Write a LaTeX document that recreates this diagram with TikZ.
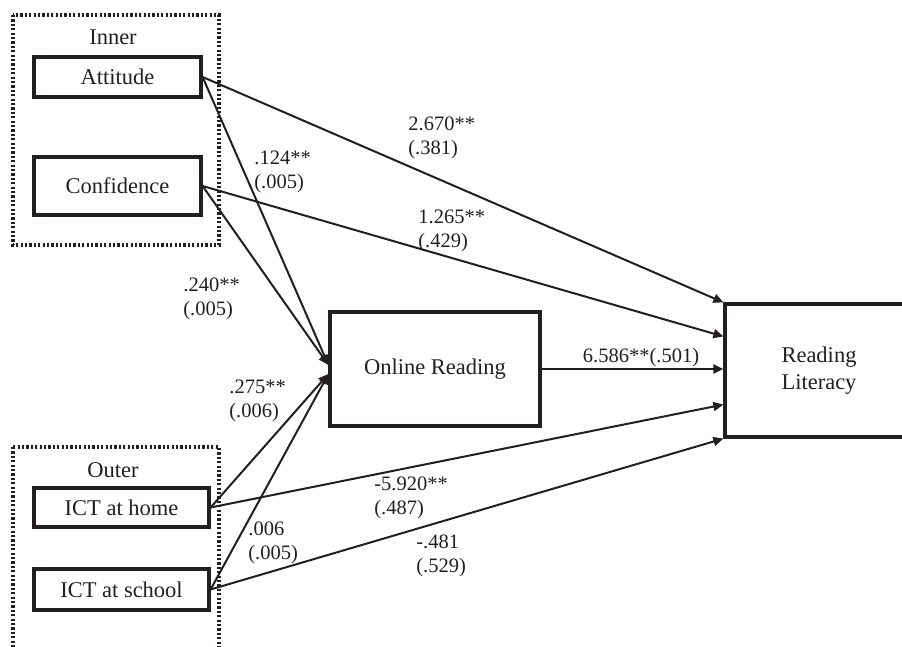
\documentclass[tikz,border=0pt]{standalone}
\usepackage{fontspec}
\setmainfont{Liberation Serif}
\usetikzlibrary{arrows.meta,positioning,calc}
\definecolor{ink}{HTML}{231F20}
\tikzset{box/.style={draw=ink,line width=1.6pt,text=ink,font=\fontsize{11.25}{13.5}\selectfont,align=center,inner sep=0pt},
grp/.style={draw=ink,line width=1.6pt,dash pattern=on 1.1pt off 1.1pt},
title/.style={text=ink,font=\fontsize{11.25}{13.5}\selectfont,inner sep=0pt},
arr/.style={-{Triangle[length=5pt,width=4.5pt]},line width=1pt,draw=ink},
coef/.style={anchor=west,align=left,text=ink,font=\fontsize{10.25}{12}\selectfont,inner sep=0pt}}

\begin{document}
\begin{tikzpicture}[x=0.5pt,y=-0.5pt]
\clip (0,0) rectangle (902,647);
% groups
\draw[grp] (13,15) rectangle (219,245);
\draw[grp] (13,447) rectangle (219,680);
\node[title] (inner) at (113,37) {Inner};
\node[title] (outer) at (113,470) {Outer};
% variables
\node[box,minimum width=83.5pt,minimum height=20pt] (att) at (117.5,77) {Attitude};
\node[box,minimum width=83.5pt,minimum height=29pt] (conf) at (117.5,186) {Confidence};
\node[box,minimum width=87.5pt,minimum height=19.5pt] (home) at (121.5,507.5) {ICT at home};
\node[box,minimum width=87.5pt,minimum height=20.5pt] (school) at (121.5,589.5) {ICT at school};
\node[box,minimum width=105pt,minimum height=57pt] (online) at (435,369) {Online Reading};
\node[box,minimum width=94pt,minimum height=66.5pt] (lit) at (819,370.5) {Reading\\Literacy};
% paths into Online Reading
\coordinate (inU) at ([yshift=2pt]online.west);
\coordinate (inD) at ([yshift=-2.5pt]online.west);
\draw[arr] (att.east) -- (inU);
\draw[arr] (conf.east) -- (inU);
\draw[arr] (home.east) -- (inD);
\draw[arr] (school.east) -- (inD);
% paths into Reading Literacy
\draw[arr] (att.east) -- (lit.north west);
\draw[arr] (conf.east) -- ($(lit.north west)!.25!(lit.south west)$);
\draw[arr] (online.east) -- (online.east -| lit.west);
\draw[arr] (home.east) -- ($(lit.north west)!.75!(lit.south west)$);
\draw[arr] (school.east) -- (lit.south west);
% coefficients
\node[coef] (kAttLit) at (408,137.5) {2.670**\\(.381)};
\node[coef] (kConfLit) at (418,231) {1.265**\\(.429)};
\node[coef] (kAttOn) at (254,171.5) {.124**\\(.005)};
\node[coef] (kConfOn) at (183,299) {.240**\\(.005)};
\node[coef] (kHomeOn) at (229,401) {.275**\\(.006)};
\node[coef] (kSchoolOn) at (248,542.5) {.006\\(.005)};
\node[coef] (kHomeLit) at (374,497.5) {-5.920**\\(.487)};
\node[coef] (kSchoolLit) at (416,556) {-.481\\(.529)};
\node[coef,anchor=center] (kOnLit) at (641,358) {6.586**(.501)};
\end{tikzpicture}
\end{document}
